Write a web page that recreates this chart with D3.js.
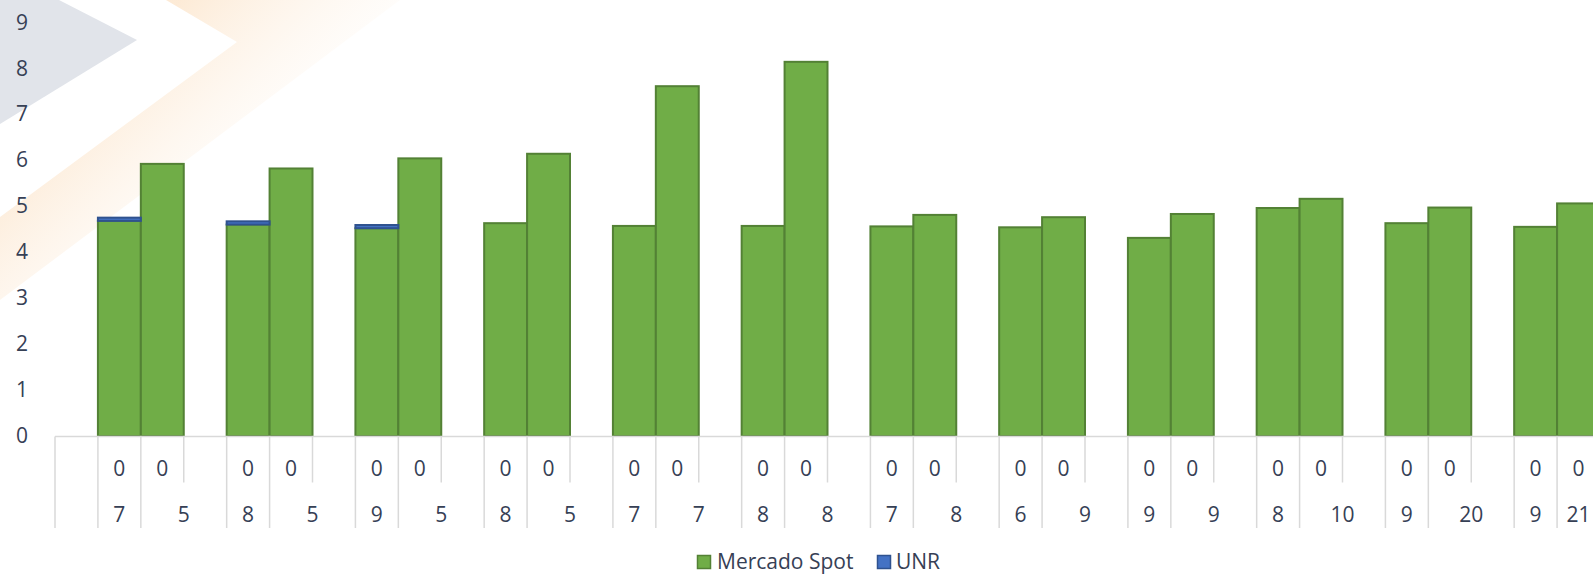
<!DOCTYPE html>
<html>
<head>
<meta charset="utf-8">
<script src="https://cdn.jsdelivr.net/npm/d3@7"></script>
<style>
  html, body { margin: 0; padding: 0; background: #ffffff; overflow: hidden; }
  svg { display: block; }
  text { font-family: "Open Sans", "DejaVu Sans", sans-serif; fill: #364055; }
</style>
</head>
<body>
<svg id="chart" width="1593" height="574"></svg>
<script>
// ---- data ----
const outerA = ["7","8","9","8","7","8","7","6","9","8","9","9"];
const outerB = ["5","5","5","5","7","8","8","9","9","10","20","21"];
const innerA = ["0","0","0","0","0","0","0","0","0","0","0","0"];
const innerB = ["0","0","0","0","0","0","0","0","0","0","0","0"];
const spotA = [4.68, 4.60, 4.52, 4.63, 4.57, 4.57, 4.56, 4.54, 4.31, 4.96, 4.63, 4.55];
const spotB = [5.92, 5.82, 6.04, 6.14, 7.61, 8.14, 4.81, 4.76, 4.83, 5.16, 4.97, 5.06];
const unrA  = [0.07, 0.07, 0.07, 0, 0, 0, 0, 0, 0, 0, 0, 0];
const unrB  = [0, 0, 0, 0, 0, 0, 0, 0, 0, 0, 0, 0];
const yTicks = [0,1,2,3,4,5,6,7,8,9];
const seriesNames = ["Mercado Spot", "UNR"];
const seriesColors = ["#70ad47", "#4472c4"];
const seriesStrokes = ["#538135", "#2f528f"];

// ---- category slots (leading blank, then A, B, gap per group; no trailing gap) ----
const slots = [{id: "s0", kind: "blank", g: -1}];
outerA.forEach((_, i) => {
  slots.push({id: "a" + i, kind: "A", g: i});
  slots.push({id: "b" + i, kind: "B", g: i});
  if (i < outerA.length - 1) slots.push({id: "gap" + i, kind: "gap", g: i});
});

const svg = d3.select("#chart");
const FS = "21px";

// ---- watermark ----
const defs = svg.append("defs");
const grad = defs.append("linearGradient").attr("id", "og")
  .attr("gradientUnits", "userSpaceOnUse")
  .attr("x1", 120).attr("y1", 60).attr("x2", 260).attr("y2", 200);
grad.append("stop").attr("offset", "0").attr("stop-color", "#fce4c9").attr("stop-opacity", 0.75);
grad.append("stop").attr("offset", "1").attr("stop-color", "#fdf3e8").attr("stop-opacity", 0.0);
svg.append("polygon").attr("points", "0,0 59,0 137,40 0,124").attr("fill", "#e1e4ea");
svg.append("polygon").attr("points", "166,0 400,0 0,300 0,217 237,42").attr("fill", "url(#og)");

// ---- scales ----
const x = d3.scaleBand().domain(slots.map(d => d.id)).range([55, 1600]).padding(0);
const y = d3.scaleLinear().domain([0, 9]).range([436, 22.3]);

// ---- y axis labels ----
const yAxis = d3.axisLeft(y).tickValues(yTicks).tickSize(0).tickPadding(0);
const yg = svg.append("g").attr("transform", "translate(28,0)").call(yAxis);
yg.select(".domain").remove();
yg.selectAll("text").style("font-size", FS).attr("fill", "#364055")
  .style("font-family", "'Open Sans', sans-serif");

// ---- bars ----
const bars = [];
outerA.forEach((_, i) => {
  bars.push({slot: "a" + i, spot: spotA[i], unr: unrA[i]});
  bars.push({slot: "b" + i, spot: spotB[i], unr: unrB[i]});
});
const stack = d3.stack().keys(["spot", "unr"])(bars);
stack.forEach((layer, li) => {
  svg.append("g").selectAll("rect").data(layer.filter(d => d[1] - d[0] > 0)).join("rect")
    .attr("x", d => x(d.data.slot))
    .attr("width", x.bandwidth())
    .attr("y", d => y(d[1]))
    .attr("height", d => y(d[0]) - y(d[1]))
    .attr("fill", seriesColors[li])
    .attr("stroke", seriesStrokes[li])
    .attr("stroke-width", 2);
});

// ---- category axis ----
const axisColor = "#d9d9d9";
const axisY = 436.5;
svg.append("line").attr("x1", 55).attr("x2", 1600).attr("y1", axisY).attr("y2", axisY)
  .attr("stroke", axisColor).attr("stroke-width", 1.5);

const bw = x.bandwidth();
slots.filter(s => s.kind !== "gap").forEach(s => {
  svg.append("line").attr("x1", x(s.id)).attr("x2", x(s.id))
    .attr("y1", axisY).attr("y2", 528).attr("stroke", axisColor).attr("stroke-width", 1.5);
});
slots.filter(s => s.kind === "gap").forEach(s => {
  svg.append("line").attr("x1", x(s.id)).attr("x2", x(s.id))
    .attr("y1", axisY).attr("y2", 482.5).attr("stroke", axisColor).attr("stroke-width", 1.5);
});

// inner labels
outerA.forEach((_, i) => {
  [["a" + i, innerA[i]], ["b" + i, innerB[i]]].forEach(([id, lab]) => {
    svg.append("text").attr("x", x(id) + bw / 2).attr("y", 468.5).attr("dy", "0.35em")
      .attr("text-anchor", "middle").style("font-size", FS).text(lab);
  });
});
// outer labels: A spans its slot, B spans B + gap
outerA.forEach((_, i) => {
  svg.append("text").attr("x", x("a" + i) + bw / 2).attr("y", 514.5).attr("dy", "0.35em")
    .attr("text-anchor", "middle").style("font-size", FS).text(outerA[i]);
  const span = i < outerA.length - 1 ? 2 * bw : bw;
  svg.append("text").attr("x", x("b" + i) + span / 2).attr("y", 514.5).attr("dy", "0.35em")
    .attr("text-anchor", "middle").style("font-size", FS).text(outerB[i]);
});

// ---- legend ----
const leg = [{name: seriesNames[0], sx: 697, tx: 717}, {name: seriesNames[1], sx: 877, tx: 896}];
leg.forEach((l, i) => {
  svg.append("rect").attr("x", l.sx + 0.5).attr("y", 555.5).attr("width", 13).attr("height", 13)
    .attr("fill", seriesColors[i]).attr("stroke", seriesStrokes[i]).attr("stroke-width", 1.5);
  svg.append("text").attr("x", l.tx).attr("y", 561.5).attr("dy", "0.35em")
    .style("font-size", FS).text(l.name);
});
</script>
</body>
</html>
